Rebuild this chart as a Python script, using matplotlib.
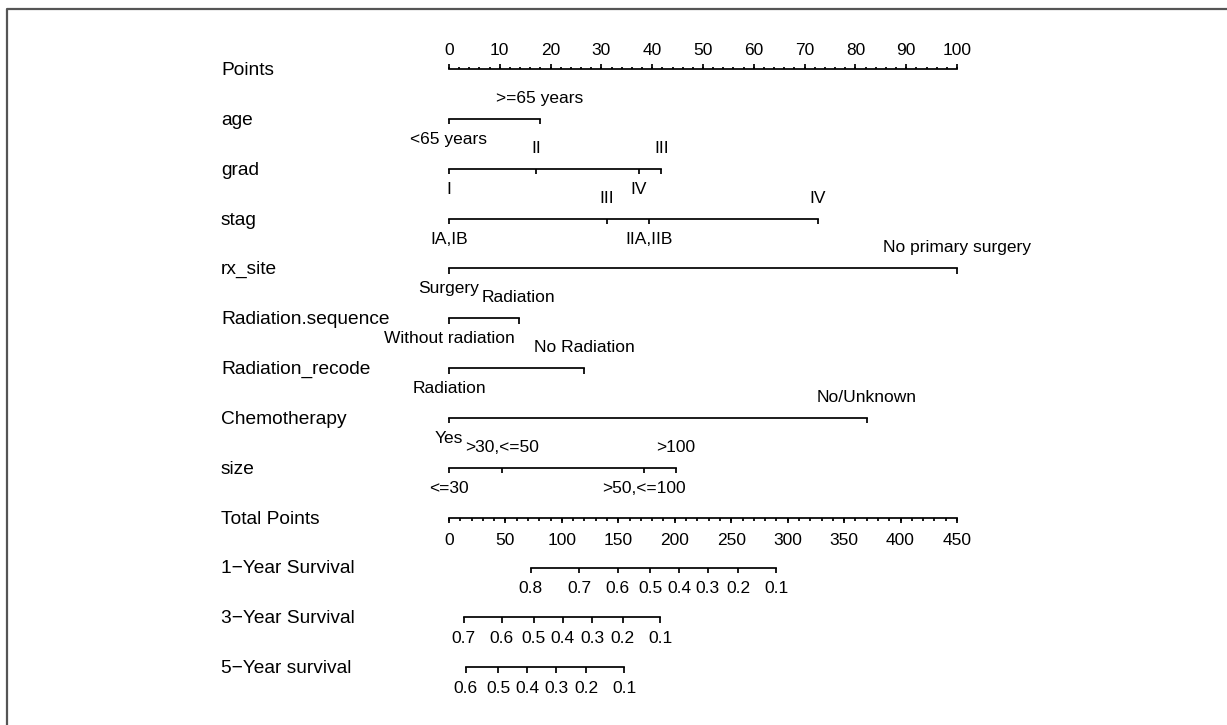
import matplotlib
matplotlib.use("Agg")
import matplotlib.pyplot as plt
from matplotlib.lines import Line2D
import numpy as np

plt.rcParams['font.family'] = ['Liberation Sans', 'DejaVu Sans']

# nomogram data (points scale 0-100)
point_ticks = list(range(0, 101, 10))

age_levels = ["<65 years", ">=65 years"]
age_pts = [0, 17.9]
grad_levels = ["I", "II", "III", "IV"]
grad_pts = [0, 17.1, 41.8, 37.4]
stag_levels = ["IA,IB", "III", "IIA,IIB", "IV"]
stag_pts = [0, 31.1, 39.3, 72.6]
rx_levels = ["Surgery", "No primary surgery"]
rx_pts = [0, 100]
seq_levels = ["Without radiation", "Radiation"]
seq_pts = [0, 13.7]
recode_levels = ["Radiation", "No Radiation"]
recode_pts = [0, 26.6]
chemo_levels = ["Yes", "No/Unknown"]
chemo_pts = [0, 82.3]
size_levels = ["<=30", ">30,<=50", ">50,<=100", ">100"]
size_pts = [0, 10.4, 38.4, 44.7]

total_max = 450
total_ticks = list(range(0, 451, 50))

surv1_labels = ["0.8", "0.7", "0.6", "0.5", "0.4", "0.3", "0.2", "0.1"]
surv1_total = [72.5, 115.3, 149.4, 178.2, 204.1, 229.1, 256, 290]
surv3_labels = ["0.7", "0.6", "0.5", "0.4", "0.3", "0.2", "0.1"]
surv3_total = [13, 46.6, 74.9, 100.9, 126.8, 153.7, 187.3]
surv5_labels = ["0.6", "0.5", "0.4", "0.3", "0.2", "0.1"]
surv5_total = [14.9, 43.7, 69.2, 95.1, 121.5, 155.1]

variables = [
    ("age", age_levels, age_pts),
    ("grad", grad_levels, grad_pts),
    ("stag", stag_levels, stag_pts),
    ("rx_site", rx_levels, rx_pts),
    ("Radiation.sequence", seq_levels, seq_pts),
    ("Radiation_recode", recode_levels, recode_pts),
    ("Chemotherapy", chemo_levels, chemo_pts),
    ("size", size_levels, size_pts),
]
survivals = [
    ("1\u2212Year Survival", surv1_labels, surv1_total),
    ("3\u2212Year Survival", surv3_labels, surv3_total),
    ("5\u2212Year survival", surv5_labels, surv5_total),
]

W, H = 1227, 725
fig = plt.figure(figsize=(W / 100, H / 100), dpi=100)
ax = fig.add_axes([0, 0, 1, 1])
ax.axis("off")

# pixel layout: points 0 at x=449, 100 at x=957; rows start y=69, step ~50
px0, ppp = 449, 5.08
row0, rstep = 69, 49.85
ax.set_xlim(-px0 / ppp, (W - px0) / ppp)
ax.set_ylim((H - row0) / rstep, -row0 / rstep)

lab_x = (221 - px0) / ppp
off = 20.5 / rstep
lw = 1.25
fs_row = 13.8
fs_tick = 12.5
col = "black"

def row_label(y, text):
    ax.text(lab_x, y + 0.03, text, ha="left", va="center", fontsize=fs_row, color=col)

# Points axis
y = 0
row_label(y, "Points")
ax.plot([0, 100], [y, y], color=col, lw=lw)
minor = np.arange(0, 101, 2)
ax.vlines(minor, y - 0.05, y, color=col, lw=lw)
ax.vlines(point_ticks, y - 0.095, y, color=col, lw=lw)
for t in point_ticks:
    ax.text(t, y - 0.38, str(t), ha="center", va="center", fontsize=fs_tick)

# categorical variables: labels alternate below/above in order of points
for i, (name, levels, pts) in enumerate(variables):
    y = i + 1
    row_label(y, name)
    ax.plot([min(pts), max(pts)], [y, y], color=col, lw=lw)
    ax.vlines(pts, y, y + 0.11, color=col, lw=lw)
    order = np.argsort(pts)
    for rank, j in enumerate(order):
        dy = off if rank % 2 == 0 else -off
        ax.text(pts[j], y + dy, levels[j], ha="center", va="center", fontsize=fs_tick)

# Total points axis
scale = 100 / total_max
y = len(variables) + 1
row_label(y, "Total Points")
ax.plot([0, 100], [y, y], color=col, lw=lw)
ax.vlines(np.arange(0, total_max + 1, 10) * scale, y, y + 0.06, color=col, lw=lw)
ax.vlines(np.array(total_ticks) * scale, y, y + 0.1, color=col, lw=lw)
for t in total_ticks:
    ax.text(t * scale, y + 0.45, str(t), ha="center", va="center", fontsize=fs_tick)

# survival axes
for k, (name, labels, tot) in enumerate(survivals):
    y = len(variables) + 2 + k
    row_label(y, name)
    xs = np.array(tot) * scale
    ax.plot([xs.min(), xs.max()], [y, y], color=col, lw=lw)
    ax.vlines(xs, y, y + 0.11, color=col, lw=lw)
    for lb, xv in zip(labels, xs):
        ax.text(xv, y + 0.42, lb, ha="center", va="center", fontsize=fs_tick)

# outer frame (top and left edges)
fig.add_artist(Line2D([6.5 / W, 6.5 / W, 1], [0, 1 - 9 / H, 1 - 9 / H],
                      transform=fig.transFigure, color="#555555", lw=1.6))

fig.savefig("out.png", dpi=100)
